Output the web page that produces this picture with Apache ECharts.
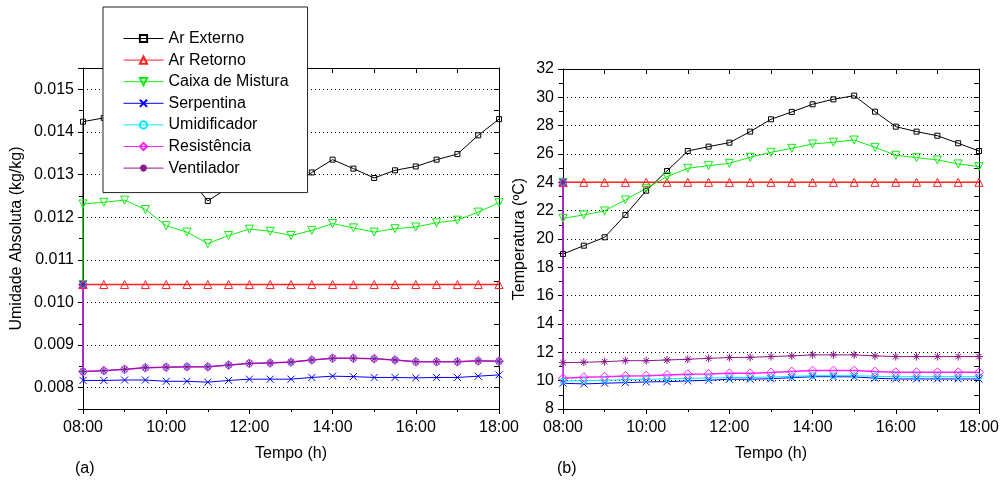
<!DOCTYPE html>
<html>
<head>
<meta charset="utf-8">
<script src="https://cdn.jsdelivr.net/npm/echarts@6/dist/echarts.min.js"></script>
<style>
  html, body { margin: 0; background: #fff; }
  #chart { width: 1002px; height: 481px; }
</style>
</head>
<body>
<div id="chart"></div>
<script>
// tempo em horas, de meia em meia hora
const horas = [8, 8.5, 9, 9.5, 10, 10.5, 11, 11.5, 12, 12.5, 13, 13.5, 14, 14.5, 15, 15.5, 16, 16.5, 17, 17.5, 18]
const nomes = ['Ar Externo', 'Ar Retorno', 'Caixa de Mistura', 'Serpentina', 'Umidificador', 'Resistência', 'Ventilador']

// (a) umidade absoluta (kg/kg)
const uaInicial = 0.01042
const uaArExterno = [0.01424, 0.01433, 0.0144, 0.0142, 0.0137, 0.0130, 0.01238, 0.0127, 0.0128, 0.0128, 0.0127, 0.01305, 0.01335, 0.01314, 0.01292, 0.01310, 0.01319, 0.01335, 0.01348, 0.01392, 0.01430]
const uaArRetorno = [0.01042, 0.01042, 0.01042, 0.01042, 0.01042, 0.01042, 0.01042, 0.01042, 0.01042, 0.01042, 0.01042, 0.01042, 0.01042, 0.01042, 0.01042, 0.01042, 0.01042, 0.01042, 0.01042, 0.01042, 0.01042]
const uaCaixa = [0.01231, 0.01235, 0.01240, 0.01218, 0.01180, 0.01165, 0.01138, 0.01157, 0.01172, 0.01167, 0.01157, 0.01169, 0.01185, 0.01175, 0.01165, 0.01173, 0.01177, 0.01187, 0.01193, 0.01212, 0.01234]
const uaSerpentina = [0.00817, 0.00817, 0.00818, 0.00818, 0.00815, 0.00815, 0.00813, 0.00817, 0.00820, 0.00820, 0.00820, 0.00824, 0.00827, 0.00826, 0.00824, 0.00824, 0.00823, 0.00824, 0.00824, 0.00827, 0.00830]
const uaUmidificador = [0.00837, 0.00840, 0.00843, 0.00846, 0.00848, 0.00849, 0.00849, 0.00853, 0.00857, 0.00858, 0.00860, 0.00865, 0.00869, 0.00869, 0.00868, 0.00865, 0.00861, 0.00861, 0.00861, 0.00862, 0.00862]
const uaResistencia = [0.00838, 0.00840, 0.00843, 0.00847, 0.00848, 0.00849, 0.00849, 0.00853, 0.00857, 0.00858, 0.00860, 0.00865, 0.00869, 0.00869, 0.00868, 0.00865, 0.00861, 0.00861, 0.00861, 0.00863, 0.00862]
const uaVentilador = [0.00838, 0.00840, 0.00843, 0.00847, 0.00848, 0.00849, 0.00849, 0.00853, 0.00857, 0.00858, 0.00860, 0.00865, 0.00869, 0.00869, 0.00868, 0.00865, 0.00861, 0.00861, 0.00861, 0.00863, 0.00862]

// (b) temperatura (ºC)
const tInicial = 24.0
const tArExterno = [18.94, 19.53, 20.12, 21.70, 23.41, 24.80, 26.21, 26.52, 26.80, 27.58, 28.45, 28.97, 29.51, 29.86, 30.12, 28.99, 27.93, 27.58, 27.29, 26.76, 26.21]
const tArRetorno = [24.0, 24.0, 24.0, 24.0, 24.0, 24.0, 24.0, 24.0, 24.0, 24.0, 24.0, 24.0, 24.0, 24.0, 24.0, 24.0, 24.0, 24.0, 24.0, 24.0, 24.0]
const tCaixa = [21.46, 21.70, 21.98, 22.76, 23.58, 24.40, 24.99, 25.18, 25.34, 25.77, 26.12, 26.40, 26.71, 26.83, 26.99, 26.47, 25.91, 25.74, 25.58, 25.30, 25.11]
const tSerpentina = [9.82, 9.77, 9.82, 9.86, 9.91, 9.93, 9.98, 10.03, 10.10, 10.10, 10.14, 10.21, 10.28, 10.28, 10.27, 10.17, 10.12, 10.12, 10.12, 10.12, 10.12]
const tUmidificador = [9.97, 10.00, 10.03, 10.07, 10.10, 10.13, 10.16, 10.19, 10.22, 10.23, 10.26, 10.30, 10.35, 10.35, 10.35, 10.31, 10.28, 10.28, 10.28, 10.28, 10.28]
const tResistencia = [10.17, 10.24, 10.28, 10.33, 10.35, 10.40, 10.45, 10.47, 10.52, 10.52, 10.57, 10.64, 10.71, 10.71, 10.71, 10.64, 10.59, 10.59, 10.59, 10.59, 10.59]
const tVentilador = [11.27, 11.30, 11.34, 11.41, 11.41, 11.46, 11.51, 11.58, 11.63, 11.65, 11.70, 11.75, 11.82, 11.82, 11.82, 11.75, 11.70, 11.70, 11.70, 11.70, 11.70]

const fonte = '"Liberation Sans", Arial, sans-serif'
const tam = 16

const estilos = {
  'Ar Externo': { color: '#000000', symbol: 'rect', size: 5 },
  'Ar Retorno': { color: '#ff2020', symbol: 'triangle', size: 8, width: 1.5 },
  'Caixa de Mistura': { color: '#10ee10', symbol: 'triangle', size: 8, rotate: 180 },
  'Serpentina': { color: '#0000ff', symbol: 'path://M0,0L10,10M10,0L0,10', size: 7 },
  'Umidificador': { color: '#00e8ff', symbol: 'circle', size: 6 },
  'Resistência': { color: '#ff22ff', symbol: 'diamond', size: 9, width: 1.5 },
  'Ventilador': { color: '#8a1a8a', symbol: 'path://M5,0L5,10M0,5L10,5M1.5,1.5L8.5,8.5M8.5,1.5L1.5,8.5', size: 8 },
}

const serie = (name, vals, inicial, idx) => {
  const s = estilos[name]
  return {
    name,
    type: 'line',
    xAxisIndex: idx,
    yAxisIndex: idx,
    color: s.color,
    data: [[horas[0], inicial]].concat(horas.map((h, i) => [h, vals[i]])),
    symbol: s.symbol,
    symbolSize: s.size,
    symbolRotate: s.rotate || 0,
    showAllSymbol: true,
    lineStyle: { color: s.color, width: s.width || 1 },
    itemStyle: { color: 'none', borderColor: s.color, borderWidth: 1 },
    emphasis: { disabled: true },
  }
}

const hora = v => (v < 10 ? '0' : '') + v + ':00'
const grade = { show: true, lineStyle: { color: '#000', width: 1, type: [1, 3] } }
const linhaEixo = { show: true, onZero: false, lineStyle: { color: '#000', width: 1 } }

const eixoX = (gridIndex, principal) => ({
  type: 'value', gridIndex, min: 8, max: 18, interval: 2,
  position: principal ? 'bottom' : 'top',
  axisLine: linhaEixo,
  axisTick: { show: true, inside: !principal, length: 5, lineStyle: { color: '#000' } },
  minorTick: { show: true, splitNumber: 2, length: principal ? 3 : 5, lineStyle: { color: '#000' } },
  axisLabel: { show: principal, formatter: hora, color: '#000', fontSize: tam, fontFamily: fonte, margin: 11 },
  splitLine: { show: false },
  name: principal ? 'Tempo (h)' : '',
  nameLocation: 'middle', nameGap: 37,
  nameTextStyle: { color: '#000', fontSize: tam, fontFamily: fonte },
})

const eixoY = (gridIndex, principal, cfg) => Object.assign({
  type: 'value', gridIndex,
  position: principal ? 'left' : 'right',
  axisLine: linhaEixo,
  axisTick: { show: true, inside: !principal, length: 5, lineStyle: { color: '#000' } },
  minorTick: { show: true, splitNumber: 2, length: principal ? 4 : 5, lineStyle: { color: '#000' } },
  splitLine: principal ? grade : { show: false },
  nameLocation: 'middle',
  nameTextStyle: { color: '#000', fontSize: tam, fontFamily: fonte },
}, cfg, {
  axisLabel: Object.assign({ show: principal, color: '#000', fontSize: tam, fontFamily: fonte, margin: 9 }, cfg.axisLabel || {}),
  name: principal ? cfg.name : '',
})

const cfgUA = {
  min: 0.0075, max: 0.0155, splitNumber: 8,
  name: 'Umidade Absoluta (kg/kg)', nameGap: 58,
  axisLabel: { formatter: v => v.toFixed(3), showMinLabel: false, showMaxLabel: false },
}
const cfgT = {
  min: 8, max: 32, interval: 2,
  name: 'Temperatura (ºC)', nameGap: 35,
}

const chart = echarts.init(document.getElementById('chart'), null, { renderer: 'canvas' })
chart.setOption({
  animation: false,
  backgroundColor: '#fff',
  textStyle: { fontFamily: fonte },
  grid: [
    { left: 83, right: 503, top: 68, bottom: 72 },
    { left: 563, right: 21, top: 69, bottom: 72 },
  ],
  xAxis: [eixoX(0, true), eixoX(0, false), eixoX(1, true), eixoX(1, false)],
  yAxis: [eixoY(0, true, cfgUA), eixoY(0, false, cfgUA), eixoY(1, true, cfgT), eixoY(1, false, cfgT)],
  legend: {
    orient: 'vertical', left: 103, top: 7,
    padding: [23, 19, 16, 20],
    backgroundColor: '#fff', borderColor: '#222', borderWidth: 1,
    itemWidth: 40, itemHeight: 9, itemGap: 4.6,
    lineStyle: { width: 1 },
    textStyle: { fontSize: tam, color: '#000', fontFamily: fonte, lineHeight: 17 },
    data: nomes,
  },
  graphic: [
    { type: 'text', left: 75, top: 461, style: { text: '(a)', fontSize: tam, fontFamily: fonte, fill: '#000' } },
    { type: 'text', left: 557, top: 461, style: { text: '(b)', fontSize: tam, fontFamily: fonte, fill: '#000' } },
  ],
  series: [
    serie('Ar Externo', uaArExterno, uaInicial, 0),
    serie('Ar Retorno', uaArRetorno, uaInicial, 0),
    serie('Caixa de Mistura', uaCaixa, uaInicial, 0),
    serie('Serpentina', uaSerpentina, uaInicial, 0),
    serie('Umidificador', uaUmidificador, uaInicial, 0),
    serie('Resistência', uaResistencia, uaInicial, 0),
    serie('Ventilador', uaVentilador, uaInicial, 0),
    serie('Ar Externo', tArExterno, tInicial, 2),
    serie('Ar Retorno', tArRetorno, tInicial, 2),
    serie('Caixa de Mistura', tCaixa, tInicial, 2),
    serie('Serpentina', tSerpentina, tInicial, 2),
    serie('Umidificador', tUmidificador, tInicial, 2),
    serie('Resistência', tResistencia, tInicial, 2),
    serie('Ventilador', tVentilador, tInicial, 2),
  ],
})
window.addEventListener('resize', () => chart.resize())
</script>
</body>
</html>
